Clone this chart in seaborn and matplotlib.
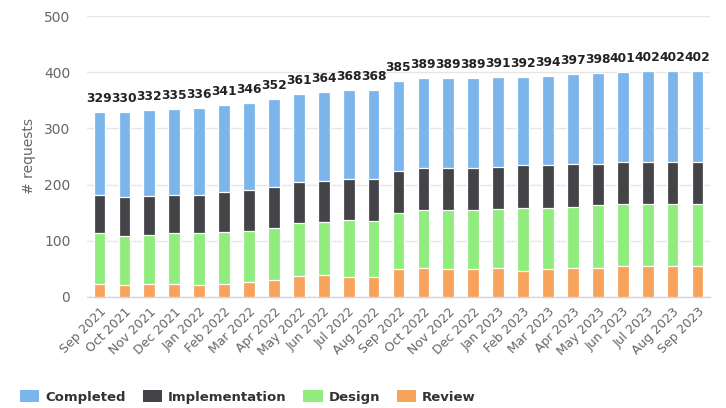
import matplotlib
matplotlib.use("Agg")
import matplotlib.pyplot as plt
import seaborn as sns
import numpy as np
import pandas as pd
from matplotlib.patches import Patch
from matplotlib.ticker import FixedLocator

months = ["Sep 2021", "Oct 2021", "Nov 2021", "Dec 2021", "Jan 2022", "Feb 2022",
          "Mar 2022", "Apr 2022", "May 2022", "Jun 2022", "Jul 2022", "Aug 2022",
          "Sep 2022", "Oct 2022", "Nov 2022", "Dec 2022", "Jan 2023", "Feb 2023",
          "Mar 2023", "Apr 2023", "May 2023", "Jun 2023", "Jul 2023", "Aug 2023",
          "Sep 2023"]
totals = [329, 330, 332, 335, 336, 341, 346, 352, 361, 364, 368, 368,
          385, 389, 389, 389, 391, 392, 394, 397, 398, 401, 402, 402, 402]
review = [23, 21, 23, 23, 21, 24, 27, 30, 38, 40, 36, 36,
          49, 51, 49, 49, 51, 47, 49, 51, 51, 55, 55, 55, 55]
design = [90, 88, 88, 90, 92, 92, 90, 92, 93, 93, 101, 99,
          101, 103, 105, 105, 106, 112, 110, 110, 112, 110, 110, 110, 110]
implementation = [69, 69, 69, 69, 69, 70, 73, 73, 73, 73, 73, 75,
                  75, 75, 75, 75, 74, 75, 75, 76, 74, 75, 75, 75, 75]
completed = [t - r - d - i for t, r, d, i in zip(totals, review, design, implementation)]

series_names = ["Completed", "Implementation", "Design", "Review"]
colors = {"Completed": "#7cb5ec", "Implementation": "#434348",
          "Design": "#90ed7d", "Review": "#f7a35c"}

df = pd.DataFrame({"month": months, "Review": review, "Design": design,
                   "Implementation": implementation, "Completed": completed})
df["c_review"] = df["Review"]
df["c_design"] = df["c_review"] + df["Design"]
df["c_impl"] = df["c_design"] + df["Implementation"]
df["c_total"] = df["c_impl"] + df["Completed"]

sns.set_style("white")
plt.rcParams["font.family"] = ["DejaVu Sans"]

fig = plt.figure(figsize=(7.26, 4.08), dpi=100)
ax = fig.add_axes([87 / 726, 1 - 297 / 408, (710 - 87) / 726, (297 - 16) / 408])

bar_w = 0.47
layers = [("c_total", "Completed"), ("c_impl", "Implementation"),
          ("c_design", "Design"), ("c_review", "Review")]
for col, name in layers:
    sns.barplot(data=df, x="month", y=col, color=colors[name], width=bar_w,
                edgecolor="white", linewidth=0.9, saturation=1, ax=ax, zorder=3)

ax.bar_label(ax.containers[0], labels=[str(t) for t in totals],
             padding=5, fontsize=8.8, fontweight="bold", color="#222222")

ax.set_ylim(0, 500)
ax.set_xlim(-0.5, len(months) - 0.5)
ax.set_yticks([0, 100, 200, 300, 400, 500])
ax.yaxis.grid(True, color="#e6e6e6", linewidth=1, zorder=0)
ax.set_axisbelow(True)
for s in ["top", "right", "left"]:
    ax.spines[s].set_visible(False)
ax.spines["bottom"].set_color("#ccd6eb")
ax.spines["bottom"].set_linewidth(1)

ax.set_xlabel("")
ax.set_ylabel("# requests", color="#666666", fontsize=10, labelpad=6)
ax.tick_params(axis="y", length=0, labelsize=10, labelcolor="#666666", pad=12)
ax.set_xticks(range(len(months)))
ax.set_xticklabels(months, rotation=45, ha="right", rotation_mode="anchor",
                   fontsize=9, color="#666666")
ax.tick_params(axis="x", which="major", length=0, pad=6)
ax.xaxis.set_minor_locator(FixedLocator(np.arange(-0.5, len(months), 1.0)))
ax.tick_params(axis="x", which="minor", length=7, color="#ccd6eb", width=1)

handles = [Patch(facecolor=colors[n], edgecolor="none", label=n) for n in series_names]
leg = fig.legend(handles=handles, loc="center left", bbox_to_anchor=(8 / 726, 1 - 397 / 408),
                 ncol=4, frameon=False, handlelength=1.45, handleheight=1.05,
                 handletextpad=0.45, columnspacing=1.3,
                 prop={"weight": "bold", "size": 9.5})
for t in leg.get_texts():
    t.set_color("#333333")

fig.savefig("out.png", dpi=100)
